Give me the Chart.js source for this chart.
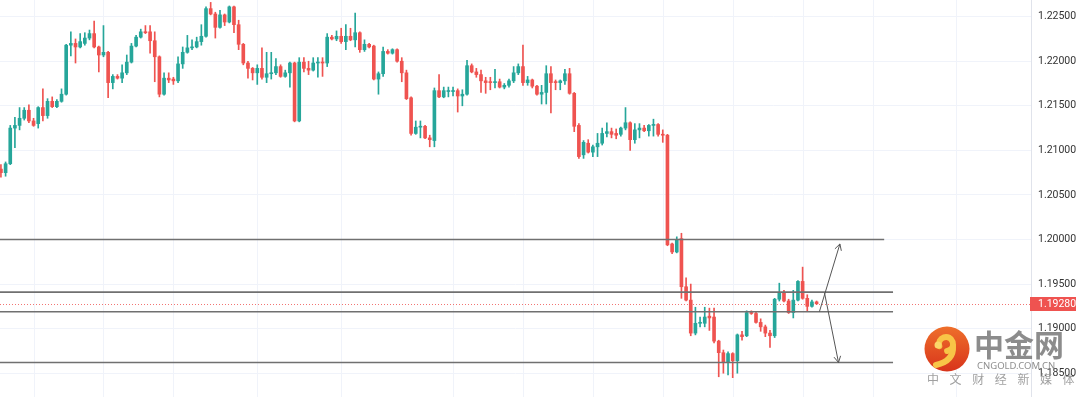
<!DOCTYPE html>
<html>
<head>
<meta charset="utf-8">
<script src="https://cdn.jsdelivr.net/npm/chart.js@4.4.0/dist/chart.umd.min.js"></script>
<style>
  html, body { margin: 0; padding: 0; background: #fff; }
  #wrap { width: 1080px; height: 397px; position: relative; }
</style>
</head>
<body>
<div id="wrap"><canvas id="candles"></canvas></div>
<script>
// candle values, one entry per bar (oldest first)
var opens = [
  1.2079,1.2075,1.2085,1.2125,1.2128,1.2136,1.2145,1.2133,1.2130,1.2148,
  1.2139,1.2155,1.2149,1.2155,1.2163,1.2218,1.2220,1.2216,1.2220,1.2226,
  1.2231,1.2216,1.2207,1.2210,1.2176,1.2183,1.2181,1.2187,1.2199,1.2217,
  1.2227,1.2233,1.2233,1.2223,1.2205,1.2163,1.2181,1.2180,1.2178,1.2197,
  1.2210,1.2215,1.2216,1.2222,1.2228,1.2259,1.2253,1.2238,1.2252,1.2244,
  1.2261,1.2241,1.2219,1.2198,1.2192,1.2187,1.2192,1.2182,1.2186,1.2187,
  1.2194,1.2183,1.2187,1.2198,1.2133,1.2199,1.2192,1.2190,1.2198,1.2199,
  1.2198,1.2227,1.2225,1.2228,1.2222,1.2228,1.2224,1.2232,1.2213,1.2219,
  1.2217,1.2180,1.2186,1.2211,1.2209,1.2213,1.2200,1.2187,1.2159,1.2119,
  1.2126,1.2127,1.2114,1.2111,1.2167,1.2160,1.2166,1.2166,1.2167,1.2161,
  1.2163,1.2195,1.2188,1.2185,1.2178,1.2177,1.2176,1.2177,1.2171,1.2173,
  1.2178,1.2187,1.2194,1.2176,1.2179,1.2172,1.2163,1.2165,1.2186,1.2177,
  1.2176,1.2178,1.2186,1.2164,1.2128,1.2095,1.2108,1.2098,1.2104,1.2108,
  1.2119,1.2121,1.2119,1.2118,1.2125,1.2131,1.2112,1.2123,1.2125,1.2122,
  1.2128,1.2129,1.2118,1.2117,1.1995,1.1986,1.2001,1.1947,1.1932,1.1895,
  1.1906,1.1906,1.1914,1.1913,1.1886,1.1873,1.1862,1.1872,1.1864,1.1893,
  1.1892,1.1918,1.1917,1.1907,1.1902,1.1895,1.1892,1.1933,1.1940,1.1931,
  1.1918,1.1932,1.1953,1.1934,1.1925,1.1930
];
var highs = [
  1.2084,1.2087,1.2128,1.2137,1.2148,1.2148,1.2151,1.2136,1.2149,1.2169,
  1.2158,1.2160,1.2157,1.2169,1.2219,1.2233,1.2225,1.2231,1.2232,1.2235,
  1.2245,1.2217,1.2240,1.2211,1.2185,1.2185,1.2196,1.2207,1.2220,1.2229,
  1.2236,1.2240,1.2240,1.2233,1.2206,1.2187,1.2187,1.2182,1.2205,1.2216,
  1.2229,1.2224,1.2227,1.2241,1.2261,1.2266,1.2255,1.2257,1.2253,1.2262,
  1.2262,1.2246,1.2220,1.2200,1.2193,1.2196,1.2215,1.2210,1.2210,1.2203,
  1.2196,1.2190,1.2199,1.2199,1.2204,1.2204,1.2200,1.2204,1.2204,1.2204,
  1.2231,1.2229,1.2234,1.2237,1.2241,1.2237,1.2254,1.2233,1.2224,1.2220,
  1.2218,1.2188,1.2216,1.2213,1.2214,1.2214,1.2204,1.2190,1.2160,1.2133,
  1.2133,1.2128,1.2117,1.2170,1.2185,1.2171,1.2171,1.2171,1.2169,1.2168,
  1.2201,1.2197,1.2192,1.2190,1.2182,1.2182,1.2191,1.2180,1.2175,1.2180,
  1.2194,1.2197,1.2218,1.2183,1.2180,1.2173,1.2173,1.2195,1.2194,1.2179,
  1.2179,1.2191,1.2192,1.2165,1.2130,1.2111,1.2112,1.2106,1.2119,1.2125,
  1.2131,1.2125,1.2124,1.2126,1.2148,1.2132,1.2130,1.2130,1.2128,1.2129,
  1.2135,1.2130,1.2123,1.2118,1.1996,1.2003,1.2007,1.1957,1.1950,1.1924,
  1.1913,1.1924,1.1923,1.1923,1.1887,1.1876,1.1874,1.1873,1.1894,1.1897,
  1.1920,1.1920,1.1919,1.1911,1.1904,1.1898,1.1934,1.1951,1.1943,1.1933,
  1.1943,1.1954,1.1969,1.1938,1.1932,1.1931
];
var lows = [
  1.2070,1.2071,1.2084,1.2103,1.2123,1.2134,1.2131,1.2127,1.2125,1.2133,
  1.2136,1.2148,1.2148,1.2154,1.2162,1.2206,1.2198,1.2215,1.2218,1.2224,
  1.2215,1.2188,1.2205,1.2159,1.2169,1.2180,1.2176,1.2185,1.2198,1.2216,
  1.2226,1.2231,1.2209,1.2177,1.2160,1.2162,1.2176,1.2174,1.2176,1.2192,
  1.2209,1.2213,1.2215,1.2218,1.2227,1.2252,1.2226,1.2237,1.2240,1.2243,
  1.2232,1.2213,1.2196,1.2181,1.2179,1.2174,1.2180,1.2176,1.2180,1.2185,
  1.2182,1.2182,1.2171,1.2132,1.2132,1.2188,1.2185,1.2189,1.2182,1.2183,
  1.2194,1.2224,1.2223,1.2220,1.2213,1.2223,1.2216,1.2210,1.2211,1.2215,
  1.2179,1.2163,1.2183,1.2208,1.2208,1.2199,1.2177,1.2157,1.2117,1.2118,
  1.2114,1.2113,1.2104,1.2104,1.2159,1.2159,1.2160,1.2161,1.2143,1.2150,
  1.2162,1.2187,1.2182,1.2165,1.2164,1.2168,1.2170,1.2170,1.2169,1.2171,
  1.2176,1.2185,1.2173,1.2173,1.2170,1.2162,1.2152,1.2152,1.2142,1.2168,
  1.2168,1.2174,1.2163,1.2121,1.2091,1.2091,1.2097,1.2093,1.2093,1.2106,
  1.2115,1.2114,1.2113,1.2116,1.2123,1.2100,1.2108,1.2114,1.2121,1.2116,
  1.2116,1.2116,1.2109,1.1993,1.1984,1.1985,1.1934,1.1931,1.1892,1.1893,
  1.1902,1.1902,1.1898,1.1884,1.1846,1.1850,1.1848,1.1845,1.1850,1.1887,
  1.1891,1.1916,1.1906,1.1897,1.1891,1.1879,1.1890,1.1931,1.1930,1.1917,
  1.1912,1.1931,1.1933,1.1919,1.1924,1.1927
];
var closes = [
  1.2075,1.2085,1.2125,1.2128,1.2136,1.2145,1.2133,1.2128,1.2148,1.2139,
  1.2155,1.2149,1.2155,1.2163,1.2218,1.2220,1.2216,1.2222,1.2226,1.2231,
  1.2216,1.2207,1.2210,1.2176,1.2183,1.2181,1.2187,1.2199,1.2217,1.2227,
  1.2233,1.2232,1.2223,1.2205,1.2163,1.2181,1.2179,1.2178,1.2197,1.2210,
  1.2215,1.2216,1.2222,1.2228,1.2259,1.2253,1.2238,1.2252,1.2244,1.2261,
  1.2241,1.2219,1.2198,1.2192,1.2187,1.2192,1.2182,1.2186,1.2187,1.2194,
  1.2183,1.2187,1.2198,1.2133,1.2199,1.2192,1.2190,1.2198,1.2199,1.2198,
  1.2227,1.2225,1.2228,1.2222,1.2228,1.2224,1.2232,1.2213,1.2219,1.2216,
  1.2180,1.2186,1.2211,1.2209,1.2213,1.2200,1.2187,1.2158,1.2119,1.2126,
  1.2127,1.2114,1.2112,1.2167,1.2160,1.2167,1.2167,1.2167,1.2161,1.2163,
  1.2195,1.2188,1.2185,1.2178,1.2176,1.2176,1.2177,1.2171,1.2173,1.2178,
  1.2187,1.2194,1.2176,1.2179,1.2172,1.2163,1.2165,1.2186,1.2176,1.2176,
  1.2178,1.2186,1.2164,1.2127,1.2093,1.2109,1.2098,1.2104,1.2108,1.2119,
  1.2121,1.2118,1.2117,1.2125,1.2131,1.2112,1.2123,1.2125,1.2122,1.2128,
  1.2129,1.2118,1.2117,1.1994,1.1986,1.2000,1.1947,1.1932,1.1895,1.1906,
  1.1907,1.1913,1.1912,1.1886,1.1873,1.1862,1.1872,1.1864,1.1893,1.1891,
  1.1918,1.1917,1.1907,1.1902,1.1895,1.1892,1.1933,1.1940,1.1931,1.1918,
  1.1932,1.1953,1.1934,1.1925,1.1930,1.1928
];

var tickValues = [1.185, 1.190, 1.195, 1.200, 1.205, 1.210, 1.215, 1.220, 1.225];
var lastPrice = 1.1928;
// drawn support / resistance lines: price and the bar where each one stops
var levelPrices = [1.2000, 1.1941, 1.1919, 1.1862];
var levelEnds = [189.5, 191.4, 191.4, 191.4];
// the two arrows on the right, [bar, price]
var arrowFrom = [[175.6, 1.1919], [176.7, 1.1940]];
var arrowTo = [[180.0, 1.1995], [179.7, 1.1862]];
// bars where the vertical (day) grid lines sit
var gridBars = [7, 22, 37, 55, 73, 97, 112, 127, 142, 157, 172, 187, 205];

var UP = '#26a69a', DOWN = '#ef5350';

var wicks = [], bodies = [], colors = [];
for (var i = 0; i < opens.length; i++) {
  wicks.push({ x: i, y: [lows[i], highs[i]] });
  bodies.push({ x: i, y: [opens[i], closes[i]] });
  colors.push(closes[i] >= opens[i] ? UP : DOWN);
}

function drawArrow(ctx, x0, y0, x1, y1) {
  var ang = Math.atan2(y1 - y0, x1 - x0), len = 7, spread = 0.5;
  ctx.beginPath();
  ctx.moveTo(x0, y0);
  ctx.lineTo(x1, y1);
  ctx.moveTo(x1 - len * Math.cos(ang - spread), y1 - len * Math.sin(ang - spread));
  ctx.lineTo(x1, y1);
  ctx.lineTo(x1 - len * Math.cos(ang + spread), y1 - len * Math.sin(ang + spread));
  ctx.stroke();
}

function drawWatermark(ctx) {
  var cx = 947, cy = 349, r = 22.5;
  var g = ctx.createLinearGradient(cx, cy - r, cx, cy + r);
  g.addColorStop(0, '#ee6f2b');
  g.addColorStop(1, '#d8341b');
  ctx.fillStyle = g;
  ctx.beginPath();
  ctx.arc(cx, cy, r, 0, Math.PI * 2);
  ctx.fill();
  // yellow swirl
  ctx.strokeStyle = '#f8c547';
  ctx.lineCap = 'round';
  ctx.lineWidth = 6;
  ctx.beginPath();
  ctx.arc(cx - 1, cy - 5, 7, Math.PI * 0.9, Math.PI * 2.45);
  ctx.stroke();
  ctx.beginPath();
  ctx.moveTo(cx + 6, cy - 3);
  ctx.quadraticCurveTo(cx + 7, cy + 12, cx - 11, cy + 16);
  ctx.stroke();
  ctx.fillStyle = '#fbd66a';
  ctx.beginPath();
  ctx.arc(cx - 9, cy - 4, 3.5, 0, Math.PI * 2);
  ctx.fill();

  ctx.fillStyle = 'rgba(120,120,120,0.85)';
  ctx.textBaseline = 'alphabetic';
  ctx.textAlign = 'left';
  ctx.font = 'bold 30px "Noto Sans CJK SC"';
  ctx.fillText('中金网', 974, 356);
  ctx.font = '9.5px "Noto Sans"';
  ctx.fillStyle = 'rgba(130,130,130,0.9)';
  ctx.fillText('CNGOLD.COM.CN', 977, 369);
  ctx.font = '12px "Noto Sans CJK SC"';
  ctx.fillStyle = 'rgba(150,150,150,0.9)';
  var words = ['中', '文', '财', '经', '新', '媒', '体'];
  for (var k = 0; k < words.length; k++) {
    ctx.fillText(words[k], 927 + k * 22.6, 384);
  }
}

var overlay = {
  id: 'overlay',
  beforeDatasetsDraw: function (chart) {
    var ctx = chart.ctx, xs = chart.scales.x, ys = chart.scales.y, a = chart.chartArea;
    ctx.save();
    ctx.strokeStyle = '#f0f3fa';
    ctx.lineWidth = 1;
    gridBars.forEach(function (b) {
      var px = Math.round(xs.getPixelForValue(b)) + 0.5;
      ctx.beginPath();
      ctx.moveTo(px, a.top);
      ctx.lineTo(px, a.bottom);
      ctx.stroke();
    });
    var py = Math.round(ys.getPixelForValue(lastPrice)) + 0.5;
    ctx.strokeStyle = 'rgba(239,83,80,0.8)';
    ctx.setLineDash([1, 2]);
    ctx.beginPath();
    ctx.moveTo(a.left, py);
    ctx.lineTo(a.right, py);
    ctx.stroke();
    ctx.restore();
  },
  afterDatasetsDraw: function (chart) {
    var ctx = chart.ctx, xs = chart.scales.x, ys = chart.scales.y, a = chart.chartArea;
    ctx.save();
    ctx.strokeStyle = '#707070';
    ctx.lineWidth = 1.6;
    levelPrices.forEach(function (p, n) {
      var py = ys.getPixelForValue(p);
      ctx.beginPath();
      ctx.moveTo(a.left, py);
      ctx.lineTo(xs.getPixelForValue(levelEnds[n]), py);
      ctx.stroke();
    });
    ctx.strokeStyle = '#555';
    ctx.lineWidth = 1;
    for (var n = 0; n < arrowFrom.length; n++) {
      drawArrow(ctx,
        xs.getPixelForValue(arrowFrom[n][0]), ys.getPixelForValue(arrowFrom[n][1]),
        xs.getPixelForValue(arrowTo[n][0]), ys.getPixelForValue(arrowTo[n][1]));
    }
    // last price tag on the axis
    var ty = ys.getPixelForValue(lastPrice);
    ctx.fillStyle = DOWN;
    ctx.fillRect(a.right - 1, Math.round(ty) - 7, 46, 14);
    ctx.fillStyle = '#fff';
    ctx.font = '10.5px Roboto';
    ctx.textAlign = 'left';
    ctx.textBaseline = 'middle';
    ctx.fillText(lastPrice.toFixed(5), a.right + 7, Math.round(ty));
    drawWatermark(ctx);
    ctx.restore();
  }
};

new Chart(document.getElementById('candles'), {
  type: 'bar',
  data: {
    datasets: [
      {
        label: 'body',
        data: bodies,
        backgroundColor: colors,
        barThickness: 3,
        minBarLength: 1,
        grouped: false,
        order: 0
      },
      {
        label: 'wick',
        data: wicks,
        backgroundColor: colors,
        barThickness: 1,
        grouped: false,
        order: 1
      }
    ]
  },
  options: {
    responsive: true,
    maintainAspectRatio: false,
    animation: false,
    layout: { padding: 0 },
    plugins: { legend: { display: false }, tooltip: { enabled: false } },
    scales: {
      x: {
        type: 'linear',
        display: false,
        offset: false,
        bounds: 'ticks',
        min: -0.2,
        max: 221,
        grid: { offset: false }
      },
      y: {
        position: 'right',
        min: 1.18233,
        max: 1.22687,
        grid: { color: '#f0f3fa', drawTicks: false },
        border: { color: '#e0e3eb' },
        ticks: {
          padding: 7,
          color: '#333',
          font: { family: 'Roboto', size: 10.5 },
          callback: function (v) { return v.toFixed(5); }
        },
        afterBuildTicks: function (s) {
          s.ticks = tickValues.map(function (v) { return { value: v }; });
        },
        afterFit: function (s) {
          s.width = 49;
          s.paddingTop = 0;
          s.paddingBottom = 0;
        }
      }
    }
  },
  plugins: [overlay]
});
</script>
</body>
</html>
